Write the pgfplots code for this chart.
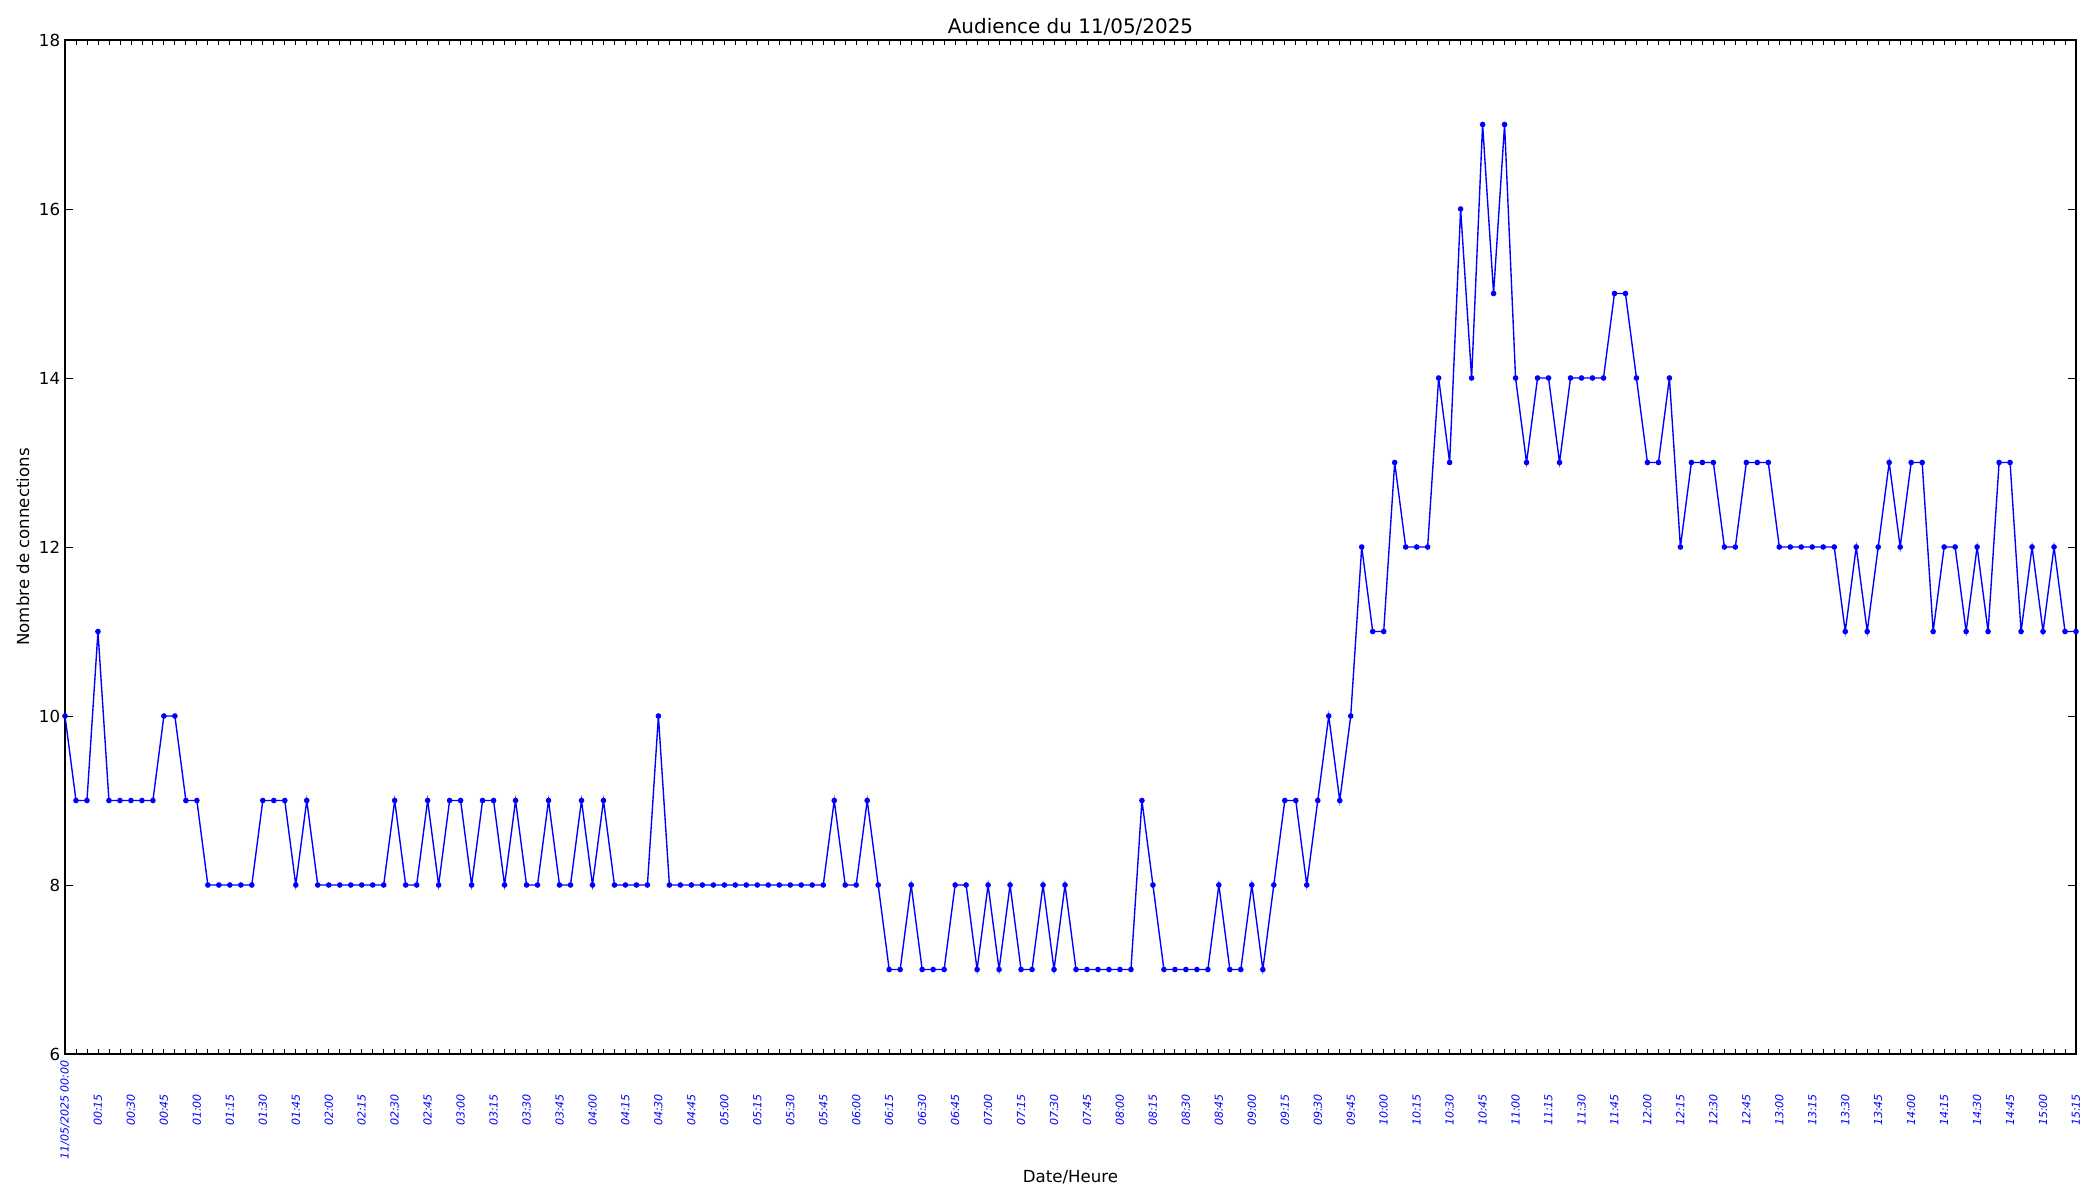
\documentclass[border=0pt]{standalone}
\usepackage{fontspec}
\setmainfont{DejaVu Sans}
\usepackage{pgfplots}
\pgfplotsset{compat=1.18}
\definecolor{mplblue}{rgb}{0,0,1}
\begin{document}
\begin{tikzpicture}
\begin{axis}[
  scale only axis,
  width=20.11in, height=10.14in,
  xmin=0, xmax=183, ymin=6, ymax=18,
  ytick={6,8,...,18},
  xtick={0,3,...,183},
  minor xtick={0,1,...,183},
  xticklabels={11/05/2025 00:00,00:15,00:30,00:45,01:00,01:15,01:30,01:45,02:00,02:15,02:30,02:45,03:00,03:15,03:30,03:45,04:00,04:15,04:30,04:45,05:00,05:15,05:30,05:45,06:00,06:15,06:30,06:45,07:00,07:15,07:30,07:45,08:00,08:15,08:30,08:45,09:00,09:15,09:30,09:45,10:00,10:15,10:30,10:45,11:00,11:15,11:30,11:45,12:00,12:15,12:30,12:45,13:00,13:15,13:30,13:45,14:00,14:15,14:30,14:45,15:00,15:15},
  tick align=inside,
  major tick length=5.5pt,
  minor tick length=3.8pt,
  xtick style={/pgfplots/major tick length=3.8pt},
  tick style={black, line width=0.6pt},
  axis line style={line width=0.8pt},
  /pgf/number format/assume math mode=true,
  yticklabel style={font=\fontsize{12}{14}\selectfont},
  xticklabel style={font=\fontsize{8}{9}\selectfont\itshape, text=mplblue, yshift=-0.56in, rotate=90, anchor=center},
  title={Audience du 11/05/2025},
  title style={font=\fontsize{14.4}{17}\selectfont, yshift=-6pt},
  xlabel={Date/Heure},
  ylabel={Nombre de connections},
  label style={font=\fontsize{12}{14}\selectfont},
  xlabel style={yshift=-1pt},
]
\addplot[color=mplblue, line width=1pt, mark=*, mark size=1.5pt] coordinates {
(0,10)(1,9)(2,9)(3,11)(4,9)(5,9)(6,9)(7,9)(8,9)(9,10)
(10,10)(11,9)(12,9)(13,8)(14,8)(15,8)(16,8)(17,8)(18,9)(19,9)
(20,9)(21,8)(22,9)(23,8)(24,8)(25,8)(26,8)(27,8)(28,8)(29,8)
(30,9)(31,8)(32,8)(33,9)(34,8)(35,9)(36,9)(37,8)(38,9)(39,9)
(40,8)(41,9)(42,8)(43,8)(44,9)(45,8)(46,8)(47,9)(48,8)(49,9)
(50,8)(51,8)(52,8)(53,8)(54,10)(55,8)(56,8)(57,8)(58,8)(59,8)
(60,8)(61,8)(62,8)(63,8)(64,8)(65,8)(66,8)(67,8)(68,8)(69,8)
(70,9)(71,8)(72,8)(73,9)(74,8)(75,7)(76,7)(77,8)(78,7)(79,7)
(80,7)(81,8)(82,8)(83,7)(84,8)(85,7)(86,8)(87,7)(88,7)(89,8)
(90,7)(91,8)(92,7)(93,7)(94,7)(95,7)(96,7)(97,7)(98,9)(99,8)
(100,7)(101,7)(102,7)(103,7)(104,7)(105,8)(106,7)(107,7)(108,8)(109,7)
(110,8)(111,9)(112,9)(113,8)(114,9)(115,10)(116,9)(117,10)(118,12)(119,11)
(120,11)(121,13)(122,12)(123,12)(124,12)(125,14)(126,13)(127,16)(128,14)(129,17)
(130,15)(131,17)(132,14)(133,13)(134,14)(135,14)(136,13)(137,14)(138,14)(139,14)
(140,14)(141,15)(142,15)(143,14)(144,13)(145,13)(146,14)(147,12)(148,13)(149,13)
(150,13)(151,12)(152,12)(153,13)(154,13)(155,13)(156,12)(157,12)(158,12)(159,12)
(160,12)(161,12)(162,11)(163,12)(164,11)(165,12)(166,13)(167,12)(168,13)(169,13)
(170,11)(171,12)(172,12)(173,11)(174,12)(175,11)(176,13)(177,13)(178,11)(179,12)
(180,11)(181,12)(182,11)(183,11)
};
\coordinate (ll) at (rel axis cs:0,0);
\coordinate (ur) at (rel axis cs:1,1);
\end{axis}
\pgfresetboundingbox
\path ([shift={(-0.65in,-1.46in)}]ll) rectangle ([shift={(0.24in,0.40in)}]ur);
\end{tikzpicture}
\end{document}
